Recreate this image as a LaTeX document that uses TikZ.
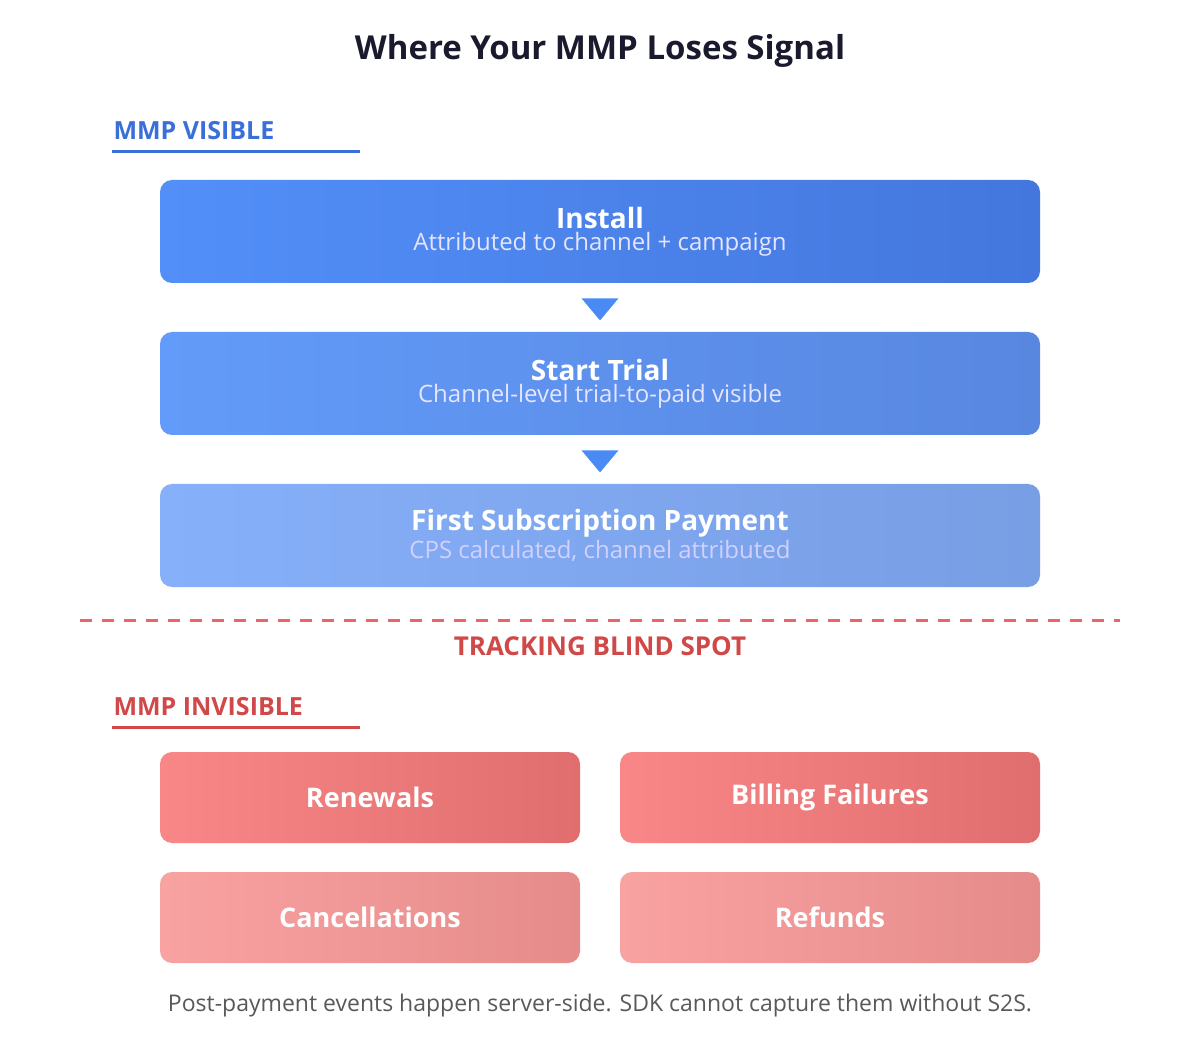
\documentclass[tikz,border=0pt]{standalone}
\usepackage{fontspec}
\setmainfont{Open Sans}
\usetikzlibrary{shapes.geometric,positioning}
\definecolor{bluehead}{HTML}{3A6FD8}
\definecolor{redhead}{HTML}{D04848}
\definecolor{redline}{HTML}{EE6464}
\definecolor{titlecol}{HTML}{1A1A2E}
\definecolor{tipblue}{HTML}{4A8AF4}
\definecolor{installL}{HTML}{528FF8}
\definecolor{installR}{HTML}{4477DD}
\definecolor{trialL}{HTML}{629BF9}
\definecolor{trialR}{HTML}{5887E0}
\definecolor{payL}{HTML}{86B0FA}
\definecolor{payR}{HTML}{789EE4}
\definecolor{lossL}{HTML}{FA8787}
\definecolor{lossR}{HTML}{E06E6E}
\definecolor{softL}{HTML}{F9A2A2}
\definecolor{softR}{HTML}{E58C8A}
\newcommand{\stagehead}[1]{{\fontsize{28}{34}\selectfont\bfseries #1}}
\newcommand{\stagesub}[2]{{\fontsize{24}{30}\selectfont\color{#1} #2}}
\tikzset{
  stagebox/.style={rounded corners=12pt, minimum width=880pt, minimum height=103pt,
    align=center, text=white, inner sep=0pt},
  lossbox/.style={rounded corners=12pt, minimum width=420pt, minimum height=91pt,
    text=white, font=\fontsize{27}{32}\selectfont\bfseries, inner sep=0pt},
  flowtip/.style={isosceles triangle, shape border rotate=-90, isosceles triangle apex angle=80,
    fill=tipblue, draw=none, minimum width=30pt, minimum height=22pt, inner sep=0pt},
  secthead/.style={anchor=west, font=\fontsize{25}{30}\selectfont\bfseries, text=#1}
}
\begin{document}
\begin{tikzpicture}[x=1pt,y=-1pt]
\useasboundingbox[fill=white] (0,0) rectangle (1200,1040);

% Title
\node[font=\fontsize{33}{40}\selectfont\bfseries, text=titlecol] (title) at (600,51) {Where Your MMP Loses Signal};

% Visible section
\node[secthead=bluehead] (vishead) at (110,131) {MMP VISIBLE};
\draw[bluehead, line width=3pt] (112,152) -- (360,152);

\node[stagebox, left color=installL, right color=installR] (install) at (600,231.5)
  {\stagehead{Install}\\[2pt]\stagesub{white!90!blue}{Attributed to channel + campaign}};
\node[stagebox, left color=trialL, right color=trialR] (trial) at (600,383.5)
  {\stagehead{Start Trial}\\[2pt]\stagesub{white!90!blue}{Channel-level trial-to-paid visible}};
\node[stagebox, left color=payL, right color=payR] (payment) at (600,535.5)
  {\stagehead{First Subscription Payment}\\[2pt]\stagesub{white!82!blue}{CPS calculated, channel attributed}};

\node[flowtip] (tip1) at (600,307) {};
\node[flowtip] (tip2) at (600,459) {};

% Blind spot
\draw[redline, line width=3pt, dash pattern=on 12pt off 10pt] (80,620) -- (1120,620);
\node[font=\fontsize{26}{31}\selectfont\bfseries, text=redhead] (blind) at (600,646) {TRACKING BLIND SPOT};

% Invisible section
\node[secthead=redhead] (invhead) at (110,707) {MMP INVISIBLE};
\draw[redhead, line width=3pt] (112,727) -- (360,727);

\node[lossbox, left color=lossL, right color=lossR] (renewals) at (370,797.5) {Renewals};
\node[lossbox, left color=lossL, right color=lossR] (billing) at (830,797.5) {Billing Failures};
\node[lossbox, left color=softL, right color=softR] (cancel) at (370,917.5) {Cancellations};
\node[lossbox, left color=softL, right color=softR] (refunds) at (830,917.5) {Refunds};

% Footer
\node[font=\fontsize{23}{28}\selectfont, text=black!65] (footer) at (600,1006) {Post-payment events happen server-side. SDK cannot capture them without S2S.};
\end{tikzpicture}
\end{document}
